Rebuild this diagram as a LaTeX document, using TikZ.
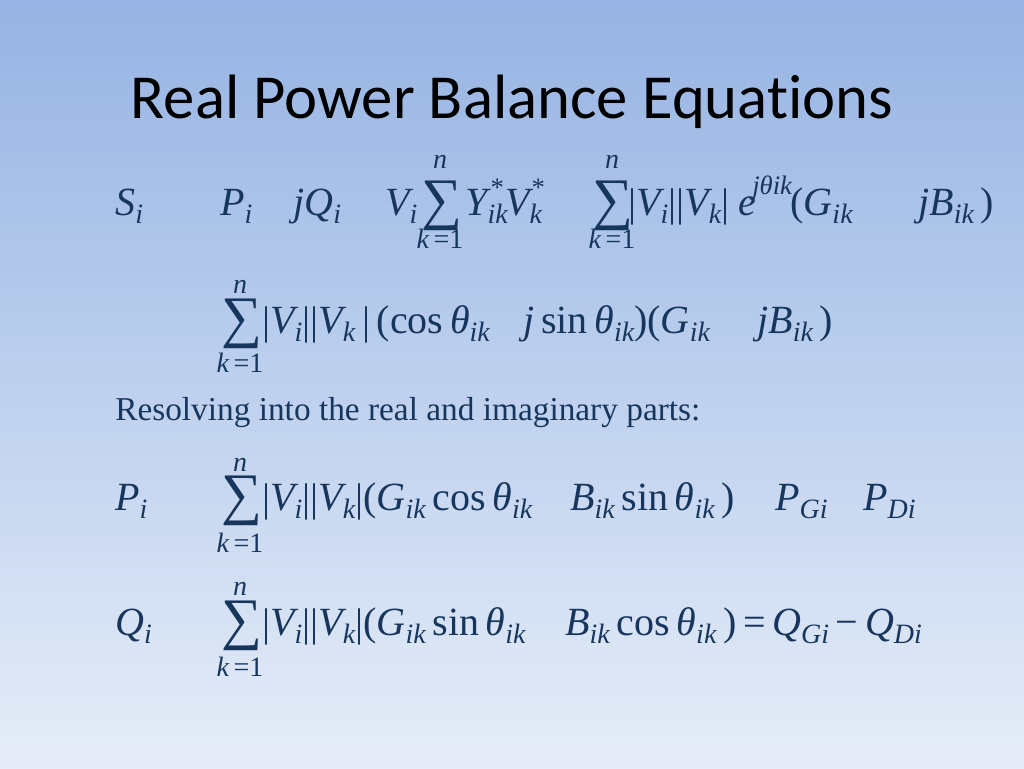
\documentclass[tikz,border=0pt]{standalone}
\usepackage{fontspec}
\setmainfont{Liberation Serif}
\newfontfamily\titlefont[Ligatures=NoCommon]{Carlito}
\definecolor{navy}{HTML}{17365D}
\definecolor{bgtop}{HTML}{95B3E3}
\definecolor{bgbot}{HTML}{E6EDF8}
\newcommand\eqf{\fontsize{30}{30}\selectfont\itshape}
\newcommand\mysb[1]{\raisebox{-0.45ex}{\fontsize{21}{21}\selectfont\itshape #1}}
\newcommand\vb{\raisebox{-0.1ex}{\upshape|}}
\tikzset{t/.style={anchor=base west,inner sep=0,text=navy,font=\eqf},
 sm/.style={anchor=base west,inner sep=0,text=navy,font=\fontsize{20}{20}\selectfont\itshape},
 lim/.style={anchor=base,inner sep=0,text=navy,font=\fontsize{21}{21}\selectfont\itshape},
 sig/.style={anchor=base west,inner sep=0,text=navy,font=\fontsize{43}{43}\selectfont}}
\begin{document}
\begin{tikzpicture}[x=0.75pt,y=-0.75pt]
\shade[top color=bgtop,bottom color=bgbot] (0,0) rectangle (1024,768);
\useasboundingbox (0,0) rectangle (1024,768);
\node[anchor=base,inner sep=0,font=\titlefont\fontsize{47}{47}\selectfont] (title) at (512,118) {Real Power Balance Equations};
% row 1
\node[t] (s1) at (115,215) {S\mysb{i}};
\node[t] (p1) at (220,215) {P\mysb{i}};
\node[t] (q1) at (293,215) {jQ\mysb{i}};
\node[t] (v1) at (385,215) {V\mysb{i}};
\node[sig] (sum1) at (421,218) {∑};
\node[lim] (n1) at (440,168) {n};
\node[lim] (k1) at (440,248) {k\,\upshape =1};
\node[t] (y1) at (465,215) {Y\mysb{ik}};
\node[sm] (ys) at (489,196) {*};
\node[t] (vk1) at (505,215) {V\mysb{k}};
\node[sm] (vs) at (530,196) {*};
\node[sig] (sum2) at (592,218) {∑};
\node[lim] (n2) at (612,168) {n};
\node[lim] (k2) at (612,248) {k\,\upshape =1};
\node[t] (m1) at (628,215) {\vb V\mysb{i}\vb\vb V\mysb{k}\vb};
\node[t] (e1) at (738,215) {e};
\node[sm] (es) at (752,194) {jθik};
\node[t] (g1) at (790,215) {\upshape(\itshape G\mysb{ik}};
\node[t] (b1) at (918,215) {jB\mysb{ik}\,\upshape)};
% row 2
\node[sig] (sum3) at (221,336) {∑};
\node[lim] (n3) at (240,293) {n};
\node[lim] (k3) at (240,372) {k\,\upshape =1};
\node[t] (m2) at (262,333) {\vb V\mysb{i}\vb\vb V\mysb{k}\,\vb\,\upshape(cos\,\itshape θ\mysb{ik}};
\node[t] (r2) at (523,333) {j\,\upshape sin\,\itshape θ\mysb{ik}\upshape)(\itshape G\mysb{ik}};
\node[t] (b2) at (757,333) {jB\mysb{ik}\,\upshape)};
% text
\node[anchor=base west,inner sep=0,text=navy,font=\fontsize{25}{25}\selectfont] (res) at (115,420) {Resolving into the real and imaginary parts:};
% row 4
\node[t] (p4) at (115,510) {P\mysb{i}};
\node[sig] (sum4) at (221,513) {∑};
\node[lim] (n4) at (240,471) {n};
\node[lim] (k4) at (240,552) {k\,\upshape =1};
\node[t] (m4) at (262,510) {\vb V\mysb{i}\vb\vb V\mysb{k}\vb\upshape(\itshape G\mysb{ik}\,\upshape cos\,\itshape θ\mysb{ik}};
\node[t] (r4) at (570,510) {B\mysb{ik}\,\upshape sin\,\itshape θ\mysb{ik}\,\upshape)};
\node[t] (pg) at (775,510) {P\mysb{Gi}};
\node[t] (pd) at (863,510) {P\mysb{Di}};
% row 5
\node[t] (q5) at (115,635) {Q\mysb{i}};
\node[sig] (sum5) at (221,638) {∑};
\node[lim] (n5) at (240,595) {n};
\node[lim] (k5) at (240,676) {k\,\upshape =1};
\node[t] (m5) at (262,635) {\vb V\mysb{i}\vb\vb V\mysb{k}\vb\upshape(\itshape G\mysb{ik}\,\upshape sin\,\itshape θ\mysb{ik}};
\node[t] (r5) at (565,635) {B\mysb{ik}\,\upshape cos\,\itshape θ\mysb{ik}\,\upshape)\,=\,\itshape Q\mysb{Gi}\,\upshape−\,\itshape Q\mysb{Di}};
\end{tikzpicture}
\end{document}
